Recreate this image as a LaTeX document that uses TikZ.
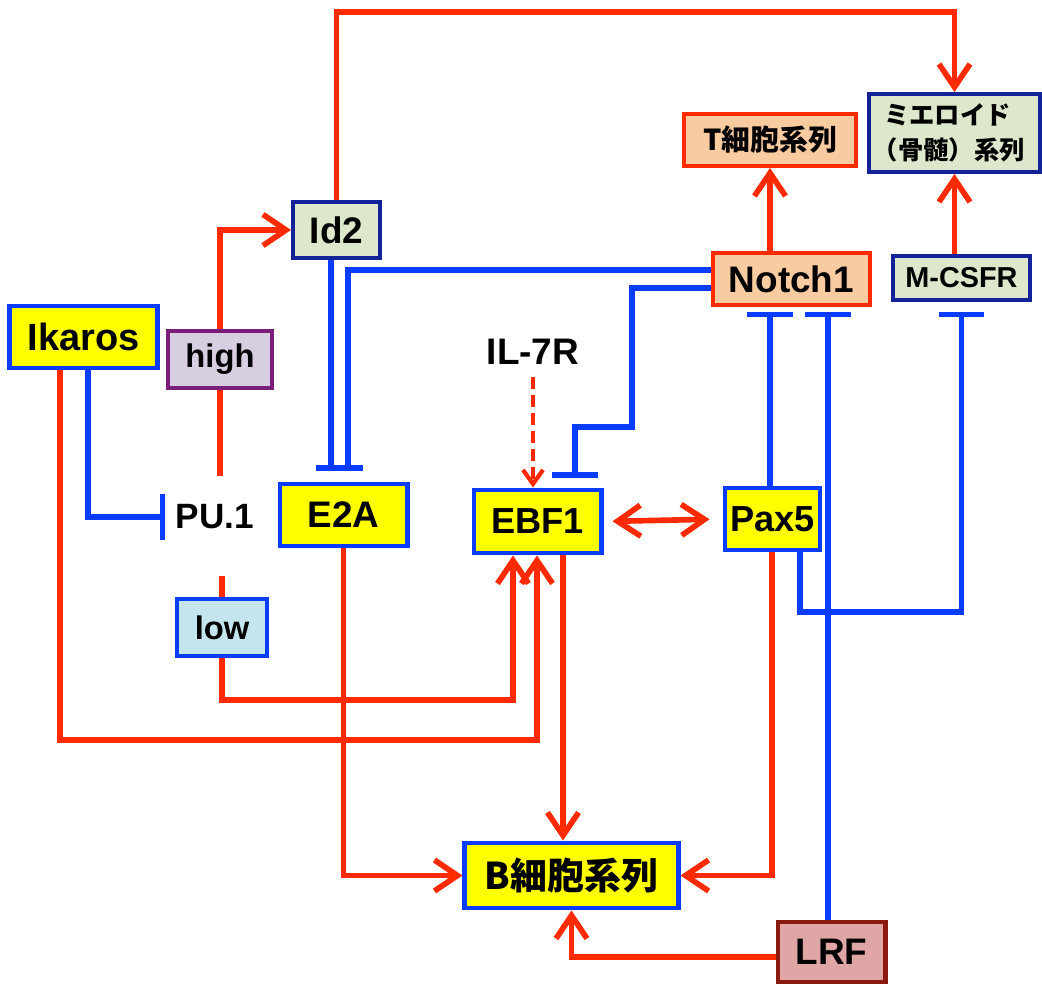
\documentclass[tikz,border=0pt]{standalone}
\usepackage{fontspec}
\setmainfont{Liberation Sans}
\newfontfamily\jpfont{Noto Sans CJK JP}
\usetikzlibrary{arrows.meta, positioning, calc}
\definecolor{arrowred}{HTML}{FF2A00}
\definecolor{lineblue}{HTML}{0A3CFF}
\definecolor{boxblue}{HTML}{0A3CFF}
\definecolor{navyblue}{HTML}{12239A}
\definecolor{geneyellow}{HTML}{FFFF00}
\definecolor{sagegreen}{HTML}{DDE7CB}
\definecolor{highlilac}{HTML}{D8CEE2}
\definecolor{highpurple}{HTML}{7B1E7A}
\definecolor{lowblue}{HTML}{C4E4EE}
\definecolor{peach}{HTML}{F9CBA0}
\definecolor{lrfpink}{HTML}{E0A6A6}
\definecolor{lrfbrown}{HTML}{8B1A0E}

\begin{document}
\begin{tikzpicture}[x=0.01cm, y=-0.01cm, line join=miter,
    genebox/.style={draw=boxblue, fill=geneyellow, line width=1.4pt, inner sep=0pt},
    upreg/.style={draw=arrowred, line width=1.6pt, -{Straight Barb[length=2.3mm, width=3.1mm]}},
    block/.style={draw=lineblue, line width=1.5pt, -{Bar[width=4.5mm]}}]
      \useasboundingbox (0,0) rectangle (1042,984);

      % Regulatoren links
      \node[genebox, minimum width=1.47cm, minimum height=0.62cm, font=\bfseries\fontsize{10.8}{13}\selectfont] (Ikaros) at (83.5,337) {Ikaros};
      \node[draw=highpurple, fill=highlilac, line width=1.1pt, minimum width=1.04cm, minimum height=0.57cm, inner sep=0pt, font=\bfseries\fontsize{9.3}{11}\selectfont] (high) at (220,359.5) {high};
      \node[draw=navyblue, fill=sagegreen, line width=1.1pt, minimum width=0.87cm, minimum height=0.56cm, inner sep=0pt, font=\bfseries\fontsize{10.5}{12}\selectfont] (Id2) at (336.5,230) {Id2};
      \node[inner xsep=0.1cm, minimum height=0.8cm, font=\bfseries\fontsize{10}{12}\selectfont] (PU1) at (215,517) {PU.1};
      \node[draw=boxblue, fill=lowblue, line width=1.1pt, minimum width=0.9cm, minimum height=0.57cm, inner sep=0pt, font=\bfseries\fontsize{9.3}{11}\selectfont] (low) at (222,627.5) {low};
      \node[genebox, minimum width=1.27cm, minimum height=0.62cm, font=\bfseries\fontsize{10.5}{12}\selectfont] (E2A) at (343.5,515) {E2A};

      % Mitte
      \node[font=\bfseries\fontsize{10.5}{12}\selectfont] (IL7R) at (533,352) {IL-7R};
      \node[genebox, minimum width=1.27cm, minimum height=0.63cm, font=\bfseries\fontsize{10.3}{12}\selectfont] (EBF1) at (537.5,521.5) {EBF1};
      \node[genebox, minimum width=0.95cm, minimum height=0.62cm, font=\bfseries\fontsize{10.3}{12}\selectfont] (Pax5) at (772.5,519) {Pax5};
      \node[genebox, minimum width=2.13cm, minimum height=0.65cm, font=\jpfont\bfseries\fontsize{10.5}{12}\selectfont] (Bcell) at (571.5,875.5) {B細胞系列};
      \node[draw=lrfbrown, fill=lrfpink, line width=1.4pt, minimum width=1.07cm, minimum height=0.6cm, inner sep=0pt, font=\bfseries\fontsize{10.5}{12}\selectfont] (LRF) at (831.5,952) {LRF};

      % rechts oben
      \node[draw=arrowred, fill=peach, line width=1.1pt, minimum width=1.57cm, minimum height=0.52cm, inner sep=0pt, font=\bfseries\fontsize{10.5}{12}\selectfont] (Notch1) at (791.5,279) {Notch1};
      \node[draw=navyblue, fill=sagegreen, line width=1.1pt, minimum width=1.37cm, minimum height=0.44cm, inner sep=0pt, font=\bfseries\fontsize{8.2}{10}\selectfont] (MCSFR) at (961.5,278) {M-CSFR};
      \node[draw=arrowred, fill=peach, line width=1.1pt, minimum width=1.72cm, minimum height=0.52cm, inner sep=0pt, font=\jpfont\bfseries\fontsize{8.2}{10}\selectfont] (Tcell) at (770,140) {T細胞系列};
      \node[draw=navyblue, fill=sagegreen, line width=1.1pt, minimum width=1.71cm, minimum height=0.78cm, inner sep=0pt, align=left, font=\jpfont\bfseries\fontsize{7.2}{10}\selectfont] (Myeloid) at (954.5,133) {ミエロイド\\\kern-0.45em（骨髄）系列};

      % Aktivierung
      \draw[upreg] (Id2.north) |- (Myeloid.north |- 0,12) -- (Myeloid.north);
      \draw[draw=arrowred, line width=1.6pt] (PU1.north -| high.south) -- (high.south);
      \draw[upreg] (high.north) |- (Id2.west);
      \draw[draw=arrowred, line width=1.6pt, shorten <=1.8mm] (PU1.south -| low.north) -- (low.north);
      \draw[upreg] (low.south) |- (513,700) -- (EBF1.south -| 513,0);
      \draw[upreg] (Ikaros.south -| 60,0) |- (537,740) -- (EBF1.south -| 537,0);
      \draw[upreg, dashed, dash pattern=on 1.2mm off 0.6mm, line width=1.2pt, -{Straight Barb[length=1.4mm, width=2mm]}] (IL7R.south) -- (EBF1.north -| IL7R.south);
      \draw[upreg, {Straight Barb[length=2.3mm, width=3.1mm]}-{Straight Barb[length=2.3mm, width=3.1mm]}, shorten <=0.9mm, shorten >=1.3mm] (EBF1.east) -- (Pax5.west);
      \draw[upreg] (Notch1.north -| Tcell.south) -- (Tcell.south);
      \draw[upreg] (MCSFR.north -| Myeloid.south) -- (Myeloid.south);
      \draw[upreg] (E2A.south) |- (Bcell.west);
      \draw[upreg] (EBF1.south -| 563,0) -- (Bcell.north -| 563,0);
      \draw[upreg] (Pax5.south -| 772,0) |- (Bcell.east);
      \draw[upreg] (LRF.west |- 0,957) -| (Bcell.south);

      % Hemmung
      \draw[block] (Ikaros.south -| 88,0) |- (PU1.west);
      \draw[block, -{Bar[width=3mm]}, shorten >=1.1mm] (Id2.south -| 331,0) -- (E2A.north -| 331,0);
      \draw[block, -{Bar[width=3mm]}, shorten >=1.1mm] (Notch1.west |- 0,270) -| (E2A.north -| 348,0);
      \draw[block, shorten >=1mm] (Notch1.west |- 0,288) -| (632,427) -| (EBF1.north -| 575,0);
      \draw[block, shorten >=0.5mm] (Pax5.north -| 770,0) -- (Notch1.south -| 770,0);
      \draw[block, shorten >=0.5mm] (LRF.north -| 828,0) -- (Notch1.south -| 828,0);
      \draw[block, shorten >=1mm] (Pax5.south -| 800,0) |- (MCSFR.south |- 0,612) -- (MCSFR.south);
    \end{tikzpicture}
\end{document}
